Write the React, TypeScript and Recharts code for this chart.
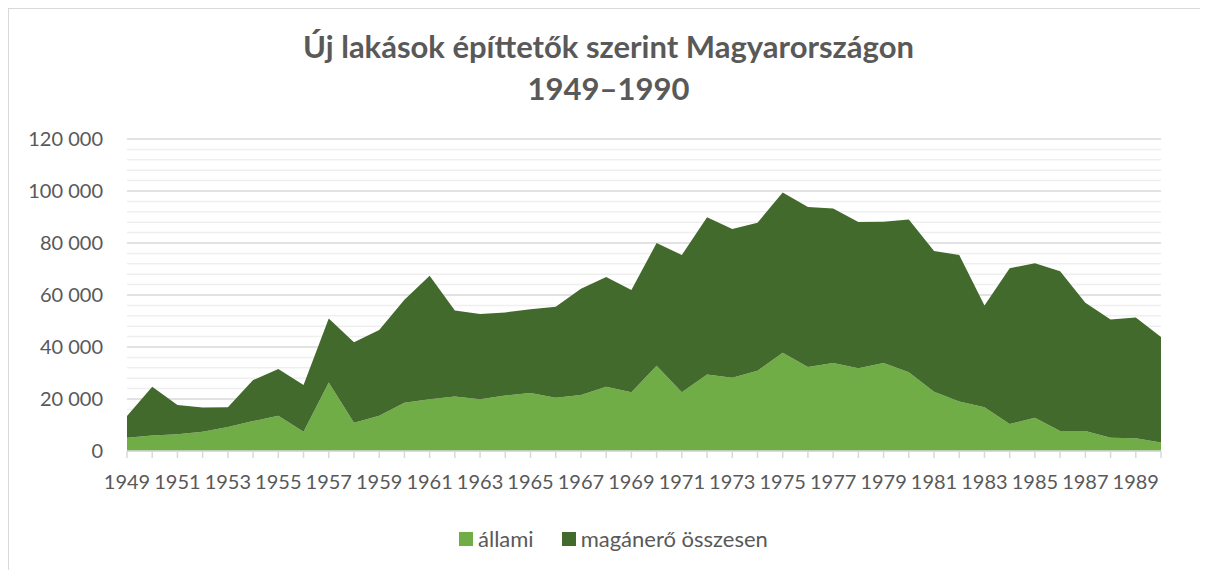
import React from "react";
import { AreaChart, Area, XAxis, YAxis, CartesianGrid, ReferenceLine } from "recharts";

const years = [
  1949, 1950, 1951, 1952, 1953, 1954, 1955, 1956, 1957, 1958, 1959, 1960, 1961, 1962,
  1963, 1964, 1965, 1966, 1967, 1968, 1969, 1970, 1971, 1972, 1973, 1974, 1975, 1976,
  1977, 1978, 1979, 1980, 1981, 1982, 1983, 1984, 1985, 1986, 1987, 1988, 1989, 1990,
];
const allami = [
  5100, 6000, 6400, 7400, 9200, 11500, 13600, 7400, 26300, 10900, 13600, 18600, 19900, 21000,
  19900, 21300, 22300, 20500, 21500, 24700, 22600, 32800, 22600, 29400, 28200, 30900, 37800, 32300,
  33800, 31800, 33800, 30300, 22800, 19000, 16800, 10400, 12800, 7700, 7700, 5100, 4900, 3300,
];
const maganero = [
  8400, 18700, 11300, 9300, 7600, 15800, 17900, 18000, 24700, 30900, 32900, 39600, 47500, 33000,
  32800, 32000, 32200, 35000, 40900, 42200, 39300, 47200, 52800, 60500, 57200, 56900, 61600, 61500,
  59500, 56300, 54400, 58700, 54100, 56400, 39200, 59900, 59400, 61400, 49300, 45500, 46400, 40500,
];
const majorTicks = [0, 20000, 40000, 60000, 80000, 100000, 120000];
const minorTicks = [
  4000, 8000, 12000, 16000, 24000, 28000, 32000, 36000, 44000, 48000, 52000, 56000,
  64000, 68000, 72000, 76000, 84000, 88000, 92000, 96000, 104000, 108000, 112000, 116000,
];
const seriesNames = { allami: "állami", maganero: "magánerő összesen" };
const titleLines = ["Új lakások építtetők szerint Magyarországon", "1949–1990"];

const data = years.map((y, i) => ({ year: y, allami: allami[i], maganero: maganero[i] }));

const FONT = "Lato, 'Open Sans', sans-serif";
const TEXT = "#595959";
const LIGHT = "#70AD47";
const DARK = "#436A2D";

const legendItems = [
  { name: seriesNames.allami, color: LIGHT },
  { name: seriesNames.maganero, color: DARK },
];

const CHART_W = 1199;
const CHART_H = 561;
const MARGIN = { top: 130, right: 47, left: 0, bottom: 79 };

const fmt = (v: number) => String(v).replace(/\B(?=(\d{3})+(?!\d))/g, " ");

const XTick = (props: any) => {
  const { x, y, payload, hidden } = props;
  if (payload.value % 2 === 0) return null;
  return (
    <text
      x={x}
      y={y}
      dy={29}
      textAnchor="middle"
      fill={hidden ? "transparent" : TEXT}
      fontSize={20}
      fontFamily={FONT}
    >
      {payload.value}
    </text>
  );
};

const renderChart = (background: boolean) => (
  <AreaChart width={CHART_W} height={CHART_H} data={data} margin={MARGIN}>
    {background &&
      minorTicks.map((v) => <ReferenceLine key={v} y={v} stroke="#efefef" strokeWidth={1.5} />)}
    {background && <CartesianGrid vertical={false} stroke="#d9d9d9" strokeWidth={1.5} />}
    <XAxis
      dataKey="year"
      interval={0}
      tickSize={7}
      tickMargin={2}
      tick={<XTick hidden={background} />}
      axisLine={background ? false : { stroke: "#d9d9d9", strokeWidth: 1.5 }}
      tickLine={background ? false : { stroke: "#d9d9d9", strokeWidth: 1.5 }}
      height={40}
    />
    <YAxis
      width={118}
      domain={[0, 120000]}
      ticks={majorTicks}
      tickFormatter={fmt}
      axisLine={false}
      tickLine={false}
      tickSize={0}
      tickMargin={24}
      tick={{ fill: background ? "transparent" : TEXT, fontSize: 20, fontFamily: FONT }}
    />
    <Area
      type="linear"
      dataKey="allami"
      name={seriesNames.allami}
      stackId="a"
      fill={background ? "none" : LIGHT}
      stroke="none"
      fillOpacity={1}
      isAnimationActive={false}
    />
    <Area
      type="linear"
      dataKey="maganero"
      name={seriesNames.maganero}
      stackId="a"
      fill={background ? "none" : DARK}
      stroke="none"
      fillOpacity={1}
      isAnimationActive={false}
    />
  </AreaChart>
);

export default function App() {
  return (
    <div
      style={{
        position: "relative",
        width: 1200,
        height: 562,
        boxSizing: "border-box",
        borderTop: "1px solid #d9d9d9",
        borderLeft: "1px solid #d9d9d9",
        background: "#fff",
        overflow: "hidden",
      }}
    >
      <div
        style={{
          position: "absolute",
          top: 16,
          left: 0,
          width: CHART_W,
          textAlign: "center",
          fontFamily: FONT,
          fontWeight: 700,
          fontSize: 31,
          color: TEXT,
          lineHeight: "42px",
          zIndex: 2,
        }}
      >
        <div>{titleLines[0]}</div>
        <div>{titleLines[1]}</div>
      </div>

      <div style={{ position: "absolute", top: 0, left: 0 }}>{renderChart(true)}</div>
      <div style={{ position: "absolute", top: 0, left: 0 }}>{renderChart(false)}</div>

      <div
        style={{
          position: "absolute",
          top: 517,
          left: 450,
          display: "flex",
          alignItems: "center",
        }}
      >
        {legendItems.map((p, i) => (
          <div key={i} style={{ display: "flex", alignItems: "center", marginRight: i === 0 ? 28 : 0 }}>
            <span style={{ width: 14, height: 14, background: p.color, display: "inline-block", marginRight: 5 }} />
            <span style={{ fontFamily: FONT, fontSize: 22, color: TEXT, lineHeight: "26px" }}>{p.name}</span>
          </div>
        ))}
      </div>
    </div>
  );
}
